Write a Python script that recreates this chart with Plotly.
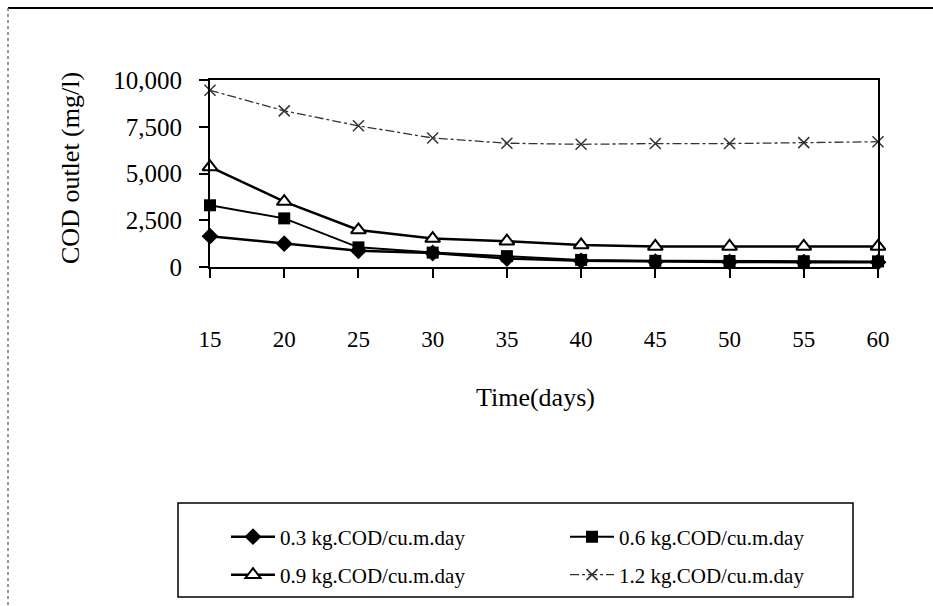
import plotly.graph_objects as go

days = [15, 20, 25, 30, 35, 40, 45, 50, 55, 60]
s03 = [1650, 1250, 870, 750, 450, 330, 280, 270, 260, 260]
s06 = [3300, 2600, 1050, 770, 580, 380, 330, 320, 310, 300]
s09 = [5350, 3500, 1980, 1520, 1380, 1180, 1100, 1100, 1100, 1100]
s12 = [9450, 8350, 7550, 6900, 6620, 6560, 6600, 6600, 6650, 6700]
names = ["0.3 kg.COD/cu.m.day", "0.6 kg.COD/cu.m.day",
         "0.9 kg.COD/cu.m.day", "1.2 kg.COD/cu.m.day"]
ytick_vals = [0, 2500, 5000, 7500, 10000]
ytick_text = ["0", "2,500", "5,000", "7,500", "10,000"]

W, H = 933, 606
L, R, T, B = 210, 878, 80, 267
pw, ph = R - L, B - T

def px(x):
    return (x - L) / pw

def py(y):
    return (B - y) / ph

SERIF = "Liberation Serif"

fig = go.Figure()
fig.add_trace(go.Scatter(x=days, y=s03, name=names[0], mode="lines+markers",
                         legend="legend",
                         line=dict(color="black", width=2.5),
                         marker=dict(symbol="diamond", size=13, color="black"),
                         cliponaxis=False))
fig.add_trace(go.Scatter(x=days, y=s06, name=names[1], mode="lines+markers",
                         legend="legend",
                         line=dict(color="black", width=2),
                         marker=dict(symbol="square", size=12, color="black"),
                         cliponaxis=False))
fig.add_trace(go.Scatter(x=days, y=s09, name=names[2], mode="lines+markers",
                         legend="legend2",
                         line=dict(color="black", width=2.5),
                         marker=dict(symbol="triangle-up", size=13, color="white",
                                     line=dict(color="black", width=2)),
                         cliponaxis=False))
fig.add_trace(go.Scatter(x=days, y=s12, name=names[3], mode="lines+markers",
                         legend="legend2",
                         line=dict(color="#333333", width=1.3, dash="dashdot"),
                         marker=dict(symbol="x-thin-open", size=11,
                                     line=dict(color="black", width=1.5)),
                         cliponaxis=False))

fig.update_xaxes(range=[15, 60], tickvals=days, ticks="outside", ticklen=9,
                 tickcolor="black", tickwidth=1.5, showline=True, linecolor="black",
                 linewidth=2, mirror=True, showgrid=False, zeroline=False,
                 tickfont=dict(family=SERIF, size=23, color="black"),
                 ticklabelstandoff=41)
fig.update_yaxes(range=[0, 10000], tickvals=ytick_vals, ticktext=ytick_text,
                 ticks="outside", ticklen=9, tickcolor="black", tickwidth=1.5,
                 showline=True, linecolor="black", linewidth=2, mirror=True,
                 showgrid=False, zeroline=False,
                 tickfont=dict(family=SERIF, size=25, color="black"),
                 ticklabelstandoff=12)

fig.add_annotation(text="Time(days)", x=px(535), y=py(397), xref="paper", yref="paper",
                   showarrow=False, font=dict(family=SERIF, size=26, color="black"),
                   xanchor="center", yanchor="middle")
fig.add_annotation(text="COD outlet (mg/l)", x=px(70), y=py(168), xref="paper", yref="paper",
                   showarrow=False, textangle=-90,
                   font=dict(family=SERIF, size=26, color="black"),
                   xanchor="center", yanchor="middle")

# legend box
fig.add_shape(type="rect", xref="paper", yref="paper",
              x0=px(178), x1=px(853), y0=py(597), y1=py(503),
              line=dict(color="black", width=1.5), fillcolor="rgba(0,0,0,0)")
# outer chart frame (top and left edges)
fig.add_shape(type="line", xref="paper", yref="paper",
              x0=px(8), x1=px(933), y0=py(8), y1=py(8),
              line=dict(color="black", width=2))
fig.add_shape(type="line", xref="paper", yref="paper",
              x0=px(8), x1=px(8), y0=py(8), y1=py(606),
              line=dict(color="#777777", width=1.5, dash="dot"))

leg_common = dict(orientation="h", xanchor="left", yanchor="middle",
                  entrywidth=254, entrywidthmode="pixels", itemwidth=44,
                  indentation=26,
                  font=dict(family=SERIF, size=21, color="black"),
                  bgcolor="rgba(0,0,0,0)", borderwidth=0)

fig.update_layout(
    width=W, height=H,
    margin=dict(l=L, r=W - R, t=T, b=H - B, autoexpand=False),
    paper_bgcolor="white", plot_bgcolor="white",
    showlegend=True,
    legend=dict(x=px(200), y=py(537), **leg_common),
    legend2=dict(x=px(200), y=py(575), **leg_common),
)

fig.write_html("out.html")
